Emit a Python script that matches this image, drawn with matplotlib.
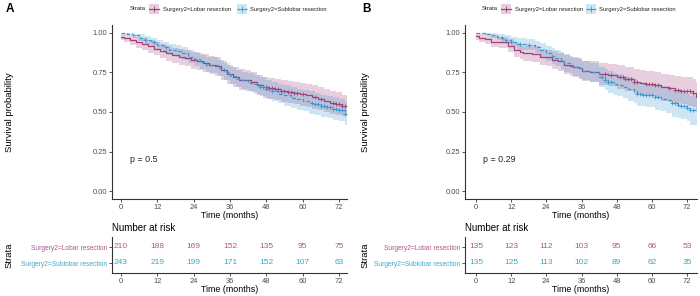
import matplotlib
matplotlib.use("Agg")
import matplotlib.pyplot as plt
import numpy as np

plt.rcParams['font.family'] = ['Liberation Sans', 'DejaVu Sans']

# ---------------- data ----------------
risk_times = [0, 12, 24, 36, 48, 60, 72]
strata = ["Surgery2=Lobar resection", "Surgery2=Sublobar resection"]

# Panel A
A_lob_t = [0, 1, 3, 5, 7, 9, 11, 13, 15, 17, 19, 21, 23, 25, 27, 29, 31, 33, 35, 37, 39, 41, 43, 45, 47, 49, 51, 53, 55, 57, 59, 61, 63, 65, 67, 69, 71, 73]
A_lob_s = [.975, .965, .955, .94, .93, .915, .90, .885, .87, .86, .85, .84, .83, .82, .81, .80, .79, .765, .74, .72, .705, .70, .69, .67, .655, .65, .645, .635, .625, .62, .615, .605, .595, .58, .57, .56, .55, .54]
A_lob_lo = [.955, .94, .925, .905, .895, .875, .86, .84, .825, .81, .80, .79, .775, .765, .755, .74, .73, .705, .68, .66, .64, .635, .625, .605, .59, .58, .575, .565, .555, .55, .54, .53, .52, .51, .50, .49, .48, .475]
A_lob_hi = [.995, .99, .985, .975, .965, .955, .94, .93, .915, .905, .90, .89, .88, .875, .865, .855, .85, .825, .80, .785, .77, .765, .755, .735, .72, .715, .71, .705, .695, .69, .685, .68, .67, .655, .645, .635, .625, .61]
A_lob_cens = [47, 48, 49, 50, 51, 52, 53, 54, 55, 56, 57, 58, 60, 64, 66, 70, 71, 72, 73, 74]

A_sub_t = [0, 2, 4, 6, 8, 10, 12, 14, 16, 18, 20, 22, 24, 26, 28, 30, 32, 34, 36, 38, 40, 42, 44, 46, 48, 50, 52, 54, 56, 58, 60, 62, 64, 66, 68, 70, 72, 74]
A_sub_s = [1.0, .995, .985, .97, .955, .94, .925, .91, .895, .885, .87, .85, .835, .815, .80, .795, .78, .755, .73, .71, .70, .685, .675, .66, .645, .63, .615, .605, .59, .58, .57, .56, .55, .54, .53, .52, .51, .49]
A_sub_lo = [1.0, .985, .97, .95, .93, .915, .895, .875, .86, .845, .83, .81, .79, .77, .755, .745, .73, .705, .68, .655, .645, .63, .615, .60, .585, .57, .555, .54, .525, .515, .505, .49, .48, .47, .46, .45, .44, .42]
A_sub_hi = [1.0, 1.0, .995, .99, .98, .97, .955, .945, .93, .925, .91, .895, .88, .86, .85, .845, .83, .81, .785, .765, .755, .745, .735, .72, .705, .69, .68, .67, .655, .645, .64, .63, .62, .61, .60, .595, .585, .565]
A_sub_cens = [8, 11, 15, 45, 46, 47, 48, 49, 50, 63, 64, 65, 66, 67, 68, 69, 70, 71, 72, 73, 74]

A_end = 74.8
A_risk_lob = [210, 188, 169, 152, 135, 95, 75]
A_risk_sub = [243, 219, 199, 171, 152, 107, 63]
A_p = "p = 0.5"

# Panel B
B_lob_t = [0, 1, 3, 5, 8, 11, 13, 15, 16, 19, 22, 24, 26, 28, 30, 32, 33, 35, 36, 39, 42, 45, 48, 51, 54, 56, 58, 61, 63, 66, 68, 70, 72, 74, 75]
B_lob_s = [.98, .97, .96, .945, .94, .92, .89, .88, .87, .865, .85, .845, .83, .82, .80, .79, .785, .775, .76, .755, .74, .735, .72, .71, .69, .685, .68, .67, .655, .65, .64, .635, .63, .62, .595]
B_lob_lo = [.955, .945, .93, .91, .905, .88, .845, .835, .82, .815, .795, .79, .775, .76, .74, .73, .72, .71, .695, .69, .67, .665, .645, .635, .615, .605, .60, .59, .57, .565, .555, .55, .54, .53, .505]
B_lob_hi = [1.0, .995, .99, .98, .975, .96, .935, .925, .92, .915, .90, .895, .885, .875, .86, .85, .845, .84, .825, .82, .81, .805, .795, .785, .77, .765, .76, .75, .74, .735, .73, .72, .72, .71, .69]
B_lob_cens = [44, 46, 49, 50, 51, 52, 53, 54, 55, 58, 59, 60, 61, 62, 66, 68, 69, 70, 71, 72, 73, 74]

B_sub_t = [0, 3, 5, 7, 9, 10, 12, 14, 17, 20, 22, 24, 26, 27, 29, 30, 32, 33, 35, 36, 39, 42, 44, 45, 47, 48, 50, 52, 54, 55, 57, 58, 61, 63, 65, 67, 69, 70, 72, 73]
B_sub_s = [1.0, .995, .985, .975, .965, .955, .945, .93, .925, .91, .89, .87, .855, .84, .825, .81, .80, .785, .775, .76, .75, .72, .705, .69, .675, .67, .66, .645, .635, .615, .61, .605, .595, .585, .575, .555, .545, .54, .525, .51]
B_sub_lo = [1.0, .985, .97, .955, .945, .93, .915, .895, .89, .87, .845, .825, .805, .79, .77, .755, .745, .73, .715, .70, .69, .655, .64, .62, .605, .60, .59, .57, .56, .54, .535, .53, .515, .505, .495, .47, .46, .455, .44, .42]
B_sub_hi = [1.0, 1.0, 1.0, .995, .99, .985, .975, .965, .96, .95, .935, .915, .905, .89, .88, .865, .855, .84, .835, .82, .81, .785, .77, .76, .745, .74, .73, .72, .71, .69, .685, .68, .675, .665, .655, .64, .63, .625, .615, .60]
B_sub_cens = [9, 12, 15, 18, 43, 44, 45, 46, 55, 56, 57, 58, 59, 60, 61, 62, 67, 68, 69, 70, 71, 72, 73, 74]

B_end = 75.5
B_risk_lob = [135, 123, 112, 103, 95, 66, 53]
B_risk_sub = [135, 125, 113, 102, 89, 62, 35]
B_p = "p = 0.29"

# ---------------- style ----------------
c_lob = "#A2407A"
c_sub = "#3C99D0"
t_lob = "#B0568A"
t_sub = "#3FA6C8"
spine_c = "#333333"
tick_c = "#4D4D4D"

W, H = 700, 296
fig = plt.figure(figsize=(W / 100, H / 100), dpi=100)
fig.patch.set_facecolor("white")


def box(l, t, r, b):
    return [l / W, 1 - b / H, (r - l) / W, (b - t) / H]


overlay = fig.add_axes([0, 0, 1, 1], zorder=10)
overlay.set_xlim(0, W)
overlay.set_ylim(H, 0)
overlay.axis("off")
overlay.patch.set_alpha(0)


def style_axes(ax):
    for s in ["top", "right"]:
        ax.spines[s].set_visible(False)
    for s in ["left", "bottom"]:
        ax.spines[s].set_color(spine_c)
        ax.spines[s].set_linewidth(0.8)
    ax.tick_params(axis="both", length=2.2, width=0.6, color=spine_c,
                   labelsize=5.4, labelcolor=tick_c, pad=1.2)
    ax.set_facecolor("white")


def step_at(t, s, x):
    idx = np.searchsorted(np.asarray(t), x, side="right") - 1
    return np.asarray(s)[np.clip(idx, 0, len(s) - 1)]


def draw_curve(ax, t, s, lo, hi, cens, end, color, ls):
    te = list(t) + [end]
    se = list(s) + [s[-1]]
    loe = list(lo) + [lo[-1]]
    hie = list(hi) + [hi[-1]]
    ax.fill_between(te, loe, hie, step="post", color=color, alpha=0.25, lw=0)
    ax.step(te, se, where="post", color=color, lw=0.9, ls=ls)
    cy = step_at(t, s, cens)
    ax.plot(cens, cy, ls="none", marker="+", ms=3.5, mew=0.6, color=color)


def panel(l_ax, right, lob, sub, end, risk_lob, risk_sub, ptext, ptx):
    ax = fig.add_axes(box(l_ax, 25, right, 199))
    style_axes(ax)
    ax.set_ylim(-0.05, 1.05)
    draw_curve(ax, *lob, end, c_lob, "-")
    draw_curve(ax, *sub, end, c_sub, (0, (3, 1.6)))
    ax.set_xticks(risk_times)
    ax.set_yticks([0, .25, .5, .75, 1.0])
    ax.set_yticklabels(["0.00", "0.25", "0.50", "0.75", "1.00"])
    ax.set_xlabel("Time (months)", fontsize=6.4, labelpad=0.3, color="black")
    ax.text(ptx, 0.2, ptext, fontsize=6.4, ha="left", va="center", color="#222222")
    rx = fig.add_axes(box(l_ax, 237, right, 273))
    style_axes(rx)
    rx.set_ylim(0.375, 2.625)
    for i, t in enumerate(risk_times):
        rx.text(t, 2, str(risk_lob[i]), color=t_lob, fontsize=6.0, ha="center", va="center")
        rx.text(t, 1, str(risk_sub[i]), color=t_sub, fontsize=6.0, ha="center", va="center")
    rx.set_xticks(risk_times)
    rx.set_yticks([2, 1])
    rx.set_yticklabels(strata, fontsize=4.8)
    for lab, c in zip(rx.get_yticklabels(), [t_lob, t_sub]):
        lab.set_color(c)
    rx.set_xlabel("Time (months)", fontsize=6.4, labelpad=0.3, color="black")
    return ax, rx


def set_xlim(ax, l_px, r_px, zero_px, p72_px):
    ppm = (p72_px - zero_px) / 72.0
    lo = -(zero_px - l_px) / ppm
    hi = lo + (r_px - l_px) / ppm
    ax.set_xlim(lo, hi)


axA, rA = panel(112, 347, (A_lob_t, A_lob_s, A_lob_lo, A_lob_hi, A_lob_cens),
                (A_sub_t, A_sub_s, A_sub_lo, A_sub_hi, A_sub_cens), A_end,
                A_risk_lob, A_risk_sub, A_p, 3.0)
set_xlim(axA, 112, 347, 121, 339)
set_xlim(rA, 112, 347, 121, 339)

axB, rB = panel(465, 697, (B_lob_t, B_lob_s, B_lob_lo, B_lob_hi, B_lob_cens),
                (B_sub_t, B_sub_s, B_sub_lo, B_sub_hi, B_sub_cens), B_end,
                B_risk_lob, B_risk_sub, B_p, 2.4)
set_xlim(axB, 465, 697, 476, 687)
set_xlim(rB, 465, 697, 476, 687)

for x0, lab, nx in [(6, "A", 112), (362, "B", 465)]:
    overlay.text(x0, 9, lab, fontsize=8.5, fontweight="bold", ha="left", va="center")
    overlay.text(x0 + 4, 112, "Survival probability", fontsize=6.8, rotation=90,
                 ha="center", va="center")
    overlay.text(x0 + 3, 255, "Strata", fontsize=6.8, rotation=90, ha="center", va="center")
    overlay.text(nx, 228, "Number at risk", fontsize=7.0, ha="left", va="center")


def legend(x_strata, k1, l1, k2, l2):
    overlay.text(x_strata, 9, "Strata", fontsize=4.2, ha="left", va="center", color="#222222")
    for kx, lx, c, txt, ls in [(k1, l1, c_lob, strata[0], "-"), (k2, l2, c_sub, strata[1], (0, (2, 1)))]:
        overlay.add_patch(plt.Rectangle((kx, 4), 10, 10, color=c, alpha=0.25, lw=0))
        overlay.plot([kx, kx + 10], [9, 9], color=c, lw=0.9, ls=ls)
        overlay.plot([kx + 5], [9], marker="+", ms=4, mew=0.6, color=c)
        overlay.text(lx, 9, txt, fontsize=4.2, ha="left", va="center", color="#222222")


legend(130, 149, 163, 237, 250)
legend(482, 501, 515, 586, 599)

fig.savefig("out.png", dpi=100, facecolor="white")
